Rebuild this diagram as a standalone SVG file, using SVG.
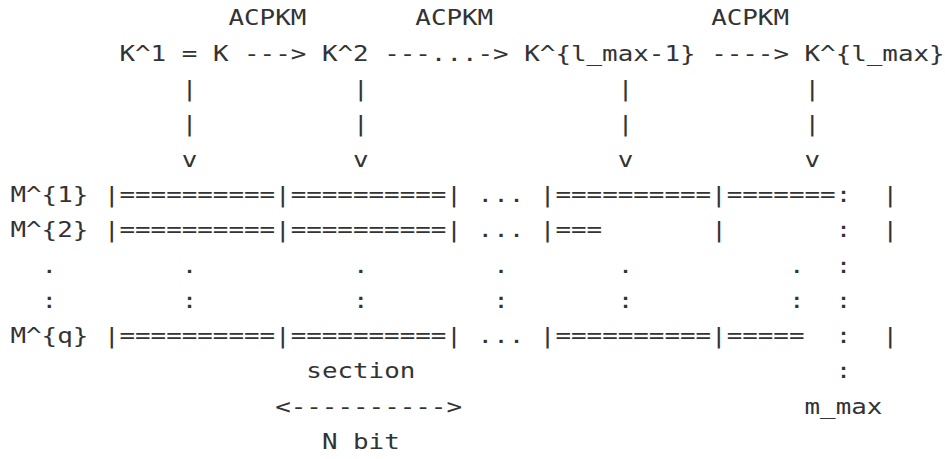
<svg xmlns="http://www.w3.org/2000/svg" width="945" height="459" viewBox="0 0 945 459">
<style>
text{font-family:"DejaVu Sans Mono","Liberation Mono",monospace;font-size:22px;fill:#333;white-space:pre}
</style>
<rect width="945" height="459" fill="#fff"/>
<g transform="matrix(1.1756 0 0 1 0 0)">
<g id="acpkm-labels">
<text x="194.35" y="25.5">ACPKM</text>
<text x="353.28" y="25.5">ACPKM</text>
<text x="604.91" y="25.5">ACPKM</text>
</g>
<g id="keys">
<text x="101.64" y="60.8" xml:space="preserve">K^1 = K</text>
<text x="273.81" y="60.8">K^2</text>
<text x="445.99" y="60.8">K^{l_max-1}</text>
<text x="684.38" y="60.8">K^{l_max}</text>
</g>
<g id="connectors">
<text x="207.59" y="60.8">---&gt;</text>
<text x="326.79" y="60.8">---...-&gt;</text>
<text x="604.91" y="60.8">----&gt;</text>
<text x="154.62" y="96.1">|</text><text x="300.30" y="96.1">|</text><text x="525.45" y="96.1">|</text><text x="684.38" y="96.1">|</text>
<text x="154.62" y="131.4">|</text><text x="300.30" y="131.4">|</text><text x="525.45" y="131.4">|</text><text x="684.38" y="131.4">|</text>
<text x="154.62" y="166.7">v</text><text x="300.30" y="166.7">v</text><text x="525.45" y="166.7">v</text><text x="684.38" y="166.7">v</text>
</g>
<g id="message-1">
<text x="8.93" y="202">M^{1}</text>
<text x="88.39" y="202">|==========|==========|</text>
<text x="406.25" y="202">...</text>
<text x="459.23" y="202">|==========|=======</text>
<text x="750.6" y="202">|</text>
</g>
<g id="message-2">
<text x="8.93" y="237.3">M^{2}</text>
<text x="88.39" y="237.3">|==========|==========|</text>
<text x="406.25" y="237.3">...</text>
<text x="459.23" y="237.3">|===</text>
<text x="604.91" y="237.3">|</text>
<text x="750.6" y="237.3">|</text>
</g>
<g id="ellipsis">
<text x="35.42" y="272.6">.</text><text x="154.62" y="272.6">.</text><text x="300.30" y="272.6">.</text><text x="419.50" y="272.6">.</text><text x="525.45" y="272.6">.</text><text x="671.15" y="272.6">.</text>
<text x="35.42" y="307.9">:</text><text x="154.62" y="307.9">:</text><text x="300.30" y="307.9">:</text><text x="419.50" y="307.9">:</text><text x="525.45" y="307.9">:</text><text x="671.15" y="307.9">:</text>
</g>
<g id="message-q">
<text x="8.93" y="343.2">M^{q}</text>
<text x="88.39" y="343.2">|==========|==========|</text>
<text x="406.25" y="343.2">...</text>
<text x="459.23" y="343.2">|==========|=====</text>
<text x="750.6" y="343.2">|</text>
</g>
<g id="m-max">
<text x="710.87" y="202">:</text>
<text x="710.87" y="237.3">:</text>
<text x="710.87" y="272.6">:</text>
<text x="710.87" y="307.9">:</text>
<text x="710.87" y="343.2">:</text>
<text x="710.87" y="378.5">:</text>
<text x="684.38" y="413.8">m_max</text>
</g>
<g id="section">
<text x="260.57" y="378.5">section</text>
<text x="234.08" y="413.8">&lt;----------&gt;</text>
<text x="273.81" y="449.1">N bit</text>
</g>
</g>
</svg>
